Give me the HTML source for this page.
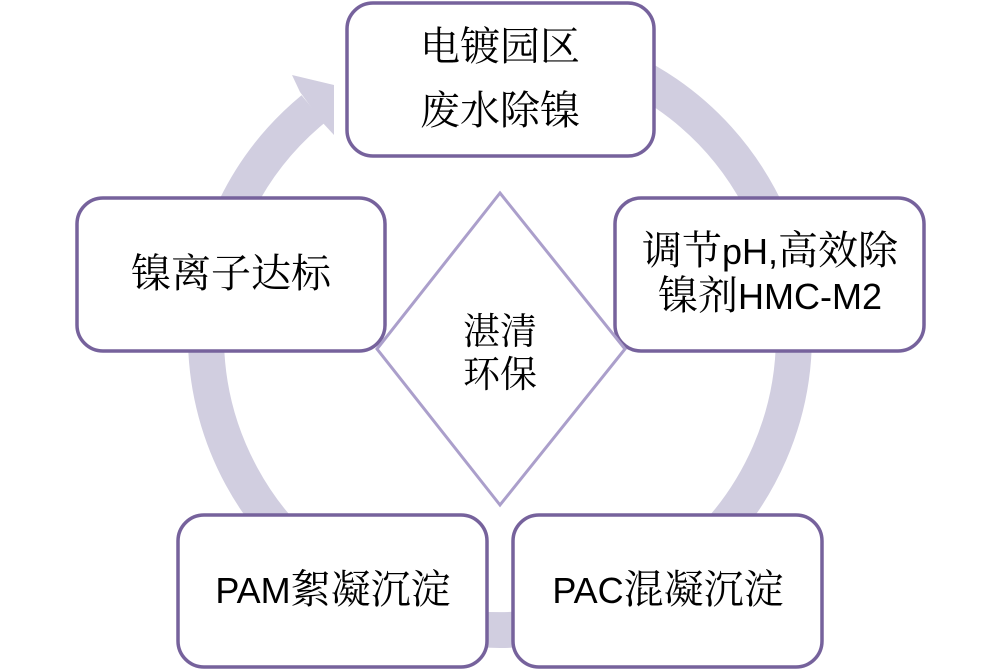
<!DOCTYPE html>
<html>
<head>
<meta charset="utf-8">
<style>
  html,body{margin:0;padding:0;background:#fff;}
  body{width:1000px;height:671px;overflow:hidden;}
  svg{display:block;}
  .cn{font-family:"Liberation Serif","Noto Serif CJK SC",serif;font-size:40px;fill:#000;}
  .lat{font-family:"Liberation Sans",sans-serif;font-size:36px;}
</style>
</head>
<body>
<svg width="1000" height="671" viewBox="0 0 1000 671" xmlns="http://www.w3.org/2000/svg">
  <!-- ring -->
  <path d="M 551.05 46.5 A 294 294 0 1 1 313.0 109.1" fill="none" stroke="#d1cee0" stroke-width="36" stroke-linecap="butt"/>
  <polygon points="300,92 292,75 334,85 334,135 322,122" fill="#d1cee0"/>

  <!-- boxes -->
  <g fill="#ffffff" stroke="#76629c" stroke-width="3.5">
    <rect x="347" y="3" width="307" height="153" rx="26" ry="26"/>
    <rect x="77" y="198" width="308" height="153" rx="26" ry="26"/>
    <rect x="615" y="198" width="309" height="153" rx="26" ry="26"/>
    <rect x="178" y="515" width="309" height="152" rx="26" ry="26"/>
    <rect x="513" y="515" width="309" height="152" rx="26" ry="26"/>
  </g>

  <!-- diamond -->
  <polygon points="500,193 625,349 500,505 377,349" fill="#ffffff" stroke="#ab9fcb" stroke-width="3"/>

  <!-- text -->
  <text class="cn" x="500" y="60" text-anchor="middle">电镀园区</text>
  <text class="cn" x="500" y="124" text-anchor="middle">废水除镍</text>

  <text class="cn" x="231" y="287" text-anchor="middle">镍离子达标</text>

  <text class="cn" x="770" y="264" text-anchor="middle">调节<tspan class="lat">pH,</tspan>高效除</text>
  <text class="cn" x="770" y="309" text-anchor="middle">镍剂<tspan class="lat">HMC-M2</tspan></text>

  <text class="cn" x="333" y="603" text-anchor="middle"><tspan class="lat">PAM</tspan>絮凝沉淀</text>
  <text class="cn" x="668" y="603" text-anchor="middle"><tspan class="lat">PAC</tspan>混凝沉淀</text>

  <text class="cn" x="500" y="344" text-anchor="middle" style="font-size:37px">湛清</text>
  <text class="cn" x="500" y="387" text-anchor="middle" style="font-size:37px">环保</text>
</svg>
</body>
</html>
